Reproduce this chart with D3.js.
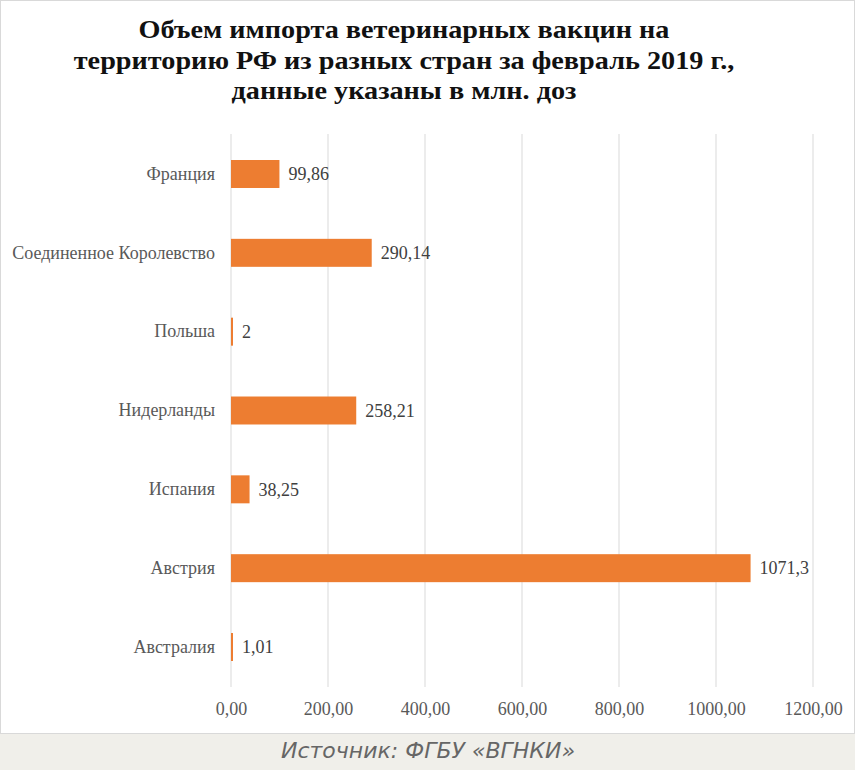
<!DOCTYPE html>
<html>
<head>
<meta charset="utf-8">
<script src="https://cdn.jsdelivr.net/npm/d3@7"></script>
<style>
  body { margin: 0; background: #fff; }
</style>
</head>
<body>
<script>
var countries = ["Франция", "Соединенное Королевство", "Польша", "Нидерланды", "Испания", "Австрия", "Австралия"];
var values = [99.86, 290.14, 2, 258.21, 38.25, 1071.3, 1.01];
var valueLabels = ["99,86", "290,14", "2", "258,21", "38,25", "1071,3", "1,01"];
var xTicks = [0, 200, 400, 600, 800, 1000, 1200];

var width = 855, height = 770;

var svg = d3.select("body").append("svg")
    .attr("width", width)
    .attr("height", height);

// frame
svg.append("rect")
    .attr("x", 0.5).attr("y", 0.5)
    .attr("width", width - 1).attr("height", 733)
    .style("fill", "#fff")
    .style("stroke", "#d9d9d9");

// title
var titleLines = [
    "Объем импорта ветеринарных вакцин на",
    "территорию РФ из разных стран за февраль 2019 г.,",
    "данные указаны в млн. доз"
];
svg.append("g").selectAll("text")
    .data(titleLines)
    .join("text")
    .attr("transform", function (d, i) { return "translate(404," + (38 + i * 30.5) + ") scale(1.13,1)"; })
    .attr("text-anchor", "middle")
    .style("font-family", "'Liberation Serif', serif")
    .style("font-weight", "bold")
    .style("font-size", "25px")
    .style("fill", "#111")
    .text(function (d) { return d; });

var x = d3.scaleLinear().domain([0, 1200]).range([231, 813]);
var y = d3.scaleBand().domain(countries).range([160, 661])
    .paddingInner(0.645).paddingOuter(0);

// gridlines
svg.append("g").selectAll("line")
    .data(xTicks)
    .join("line")
    .attr("x1", function (d) { return x(d); })
    .attr("x2", function (d) { return x(d); })
    .attr("y1", 134)
    .attr("y2", 687)
    .style("stroke", "#d9d9d9")
    .style("stroke-width", 1);

// x axis
var xAxis = svg.append("g")
    .attr("transform", "translate(0,687)")
    .call(d3.axisBottom(x).tickValues(xTicks).tickSize(0).tickPadding(15)
        .tickFormat(function (d) { return d3.format(".2f")(d).replace(".", ","); }));
xAxis.select(".domain").remove();
xAxis.selectAll("text")
    .style("font-family", "'Liberation Serif', serif")
    .style("font-size", "18px")
    .style("fill", "#595959");

// y axis labels
var yAxis = svg.append("g")
    .attr("transform", "translate(231,0)")
    .call(d3.axisLeft(y).tickSize(0).tickPadding(16));
yAxis.select(".domain").remove();
yAxis.selectAll("text")
    .style("font-family", "'Liberation Serif', serif")
    .style("font-size", "18px")
    .style("fill", "#595959");

// bars
svg.append("g").selectAll("rect")
    .data(values)
    .join("rect")
    .attr("x", x(0))
    .attr("y", function (d, i) { return y(countries[i]); })
    .attr("width", function (d) { return Math.max(x(d) - x(0), 2); })
    .attr("height", y.bandwidth())
    .style("fill", "#ed7d31");

// value labels
svg.append("g").selectAll("text")
    .data(values)
    .join("text")
    .attr("x", function (d) { return Math.max(x(d), x(0) + 2) + 9; })
    .attr("y", function (d, i) { return y(countries[i]) + y.bandwidth() / 2; })
    .attr("dy", "0.35em")
    .style("font-family", "'Liberation Serif', serif")
    .style("font-size", "18px")
    .style("fill", "#404040")
    .text(function (d, i) { return valueLabels[i]; });

// source footer
svg.append("rect")
    .attr("x", 0).attr("y", 734)
    .attr("width", width).attr("height", height - 734)
    .style("fill", "#f0efea");
svg.append("text")
    .attr("x", 281)
    .attr("y", 758)
    .style("font-family", "'DejaVu Sans', sans-serif")
    .style("font-style", "italic")
    .style("font-size", "22px")
    .style("fill", "#666")
    .text("Источник: ФГБУ «ВГНКИ»");
</script>
</body>
</html>
